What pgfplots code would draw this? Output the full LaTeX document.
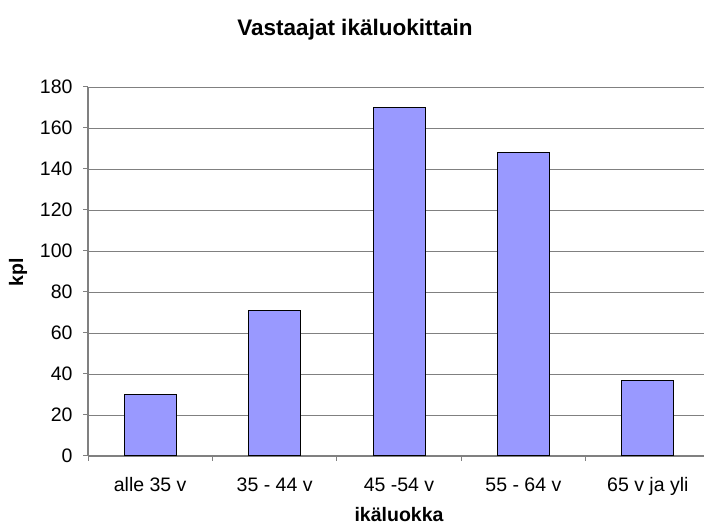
\documentclass[border=0pt]{standalone}
\usepackage{pgfplots}
\pgfplotsset{compat=1.18}
\usepackage{fontspec}
\setmainfont{Liberation Sans}
\definecolor{barblue}{RGB}{153,153,255}
\definecolor{axgray}{RGB}{128,128,128}
\begin{document}
\begin{tikzpicture}[x=1bp,y=1bp]
\useasboundingbox (0,0) rectangle (704,526);
\begin{axis}[
  at={(88bp,70bp)}, anchor=south west,
  scale only axis, width=622bp, height=369bp,
  xmin=-0.5, xmax=4.5, ymin=0, ymax=180,
  ytick={0,20,...,180},
  ymajorgrids, grid style={axgray, line width=0.9pt},
  axis x line*=bottom, axis y line*=left,
  axis line style={axgray, line width=1.2pt},
  tick style={axgray, line width=1pt},
  tick align=outside, major tick length=5bp,
  xtick={-0.5,0.5,...,4.5},
  x tick label as interval,
  xticklabels={alle 35 v, 35 - 44 v, 45 -54 v, 55 - 64 v, 65 v ja yli},
  /pgf/number format/assume math mode=true,
  ticklabel style={font=\fontsize{19.5bp}{22bp}\selectfont},
  yticklabel style={xshift=-7bp},
  xticklabel style={yshift=-13bp, text height=14bp, text depth=4bp},
  ybar, bar width=52bp,
]
\addplot[fill=barblue, draw=black, line width=1pt] coordinates {(0,30) (1,71) (2,170) (3,148) (4,37)};
\end{axis}
\node[font=\fontsize{22.5bp}{26bp}\selectfont\bfseries] at (355,496) {Vastaajat ikäluokittain};
\node[font=\fontsize{19.5bp}{22bp}\selectfont\bfseries, rotate=90] at (18,254) {kpl};
\node[font=\fontsize{19.5bp}{22bp}\selectfont\bfseries] at (399,11) {ikäluokka};
\end{tikzpicture}
\end{document}
